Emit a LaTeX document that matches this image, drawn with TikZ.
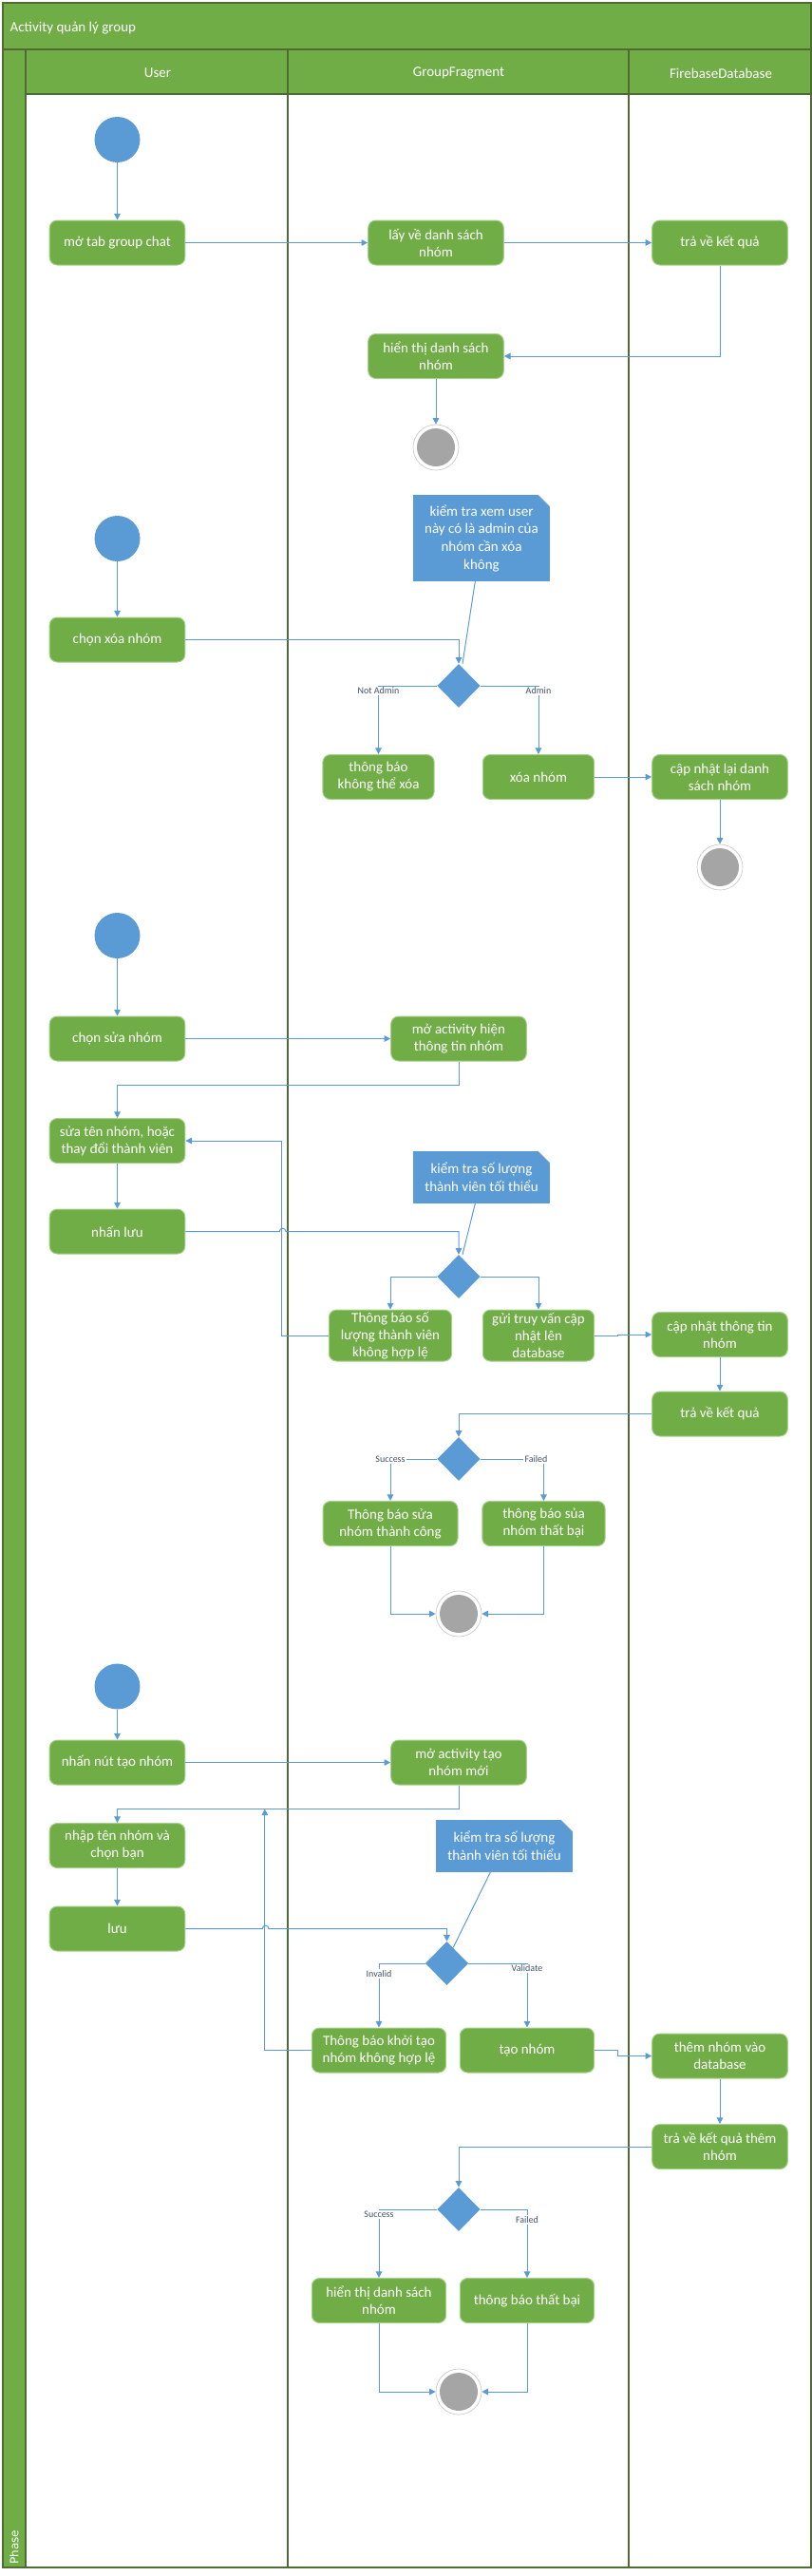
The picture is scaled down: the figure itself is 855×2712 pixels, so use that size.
\documentclass[tikz,border=0pt]{standalone}
\usepackage{fontspec}
\setmainfont{Carlito}
\newfontfamily\phasefont{DejaVu Sans}
\usepackage{xcolor}
\definecolor{lanegreen}{HTML}{70AD47}
\definecolor{laneline}{HTML}{4F6B33}
\definecolor{boxline}{HTML}{A9D18E}
\definecolor{umlblue}{HTML}{5B9BD5}
\definecolor{flowblue}{HTML}{5B9BD5}
\definecolor{endgray}{HTML}{A5A5A5}
\definecolor{guardtext}{HTML}{44546A}
\usepackage{tikz}
\usetikzlibrary{shapes.geometric}
\usetikzlibrary{arrows.meta}
\tikzset{>={Triangle[length=5pt,width=5pt]}}
\tikzset{
  action/.style   ={ font=\fontsize{11.25}{13.5}\selectfont, text=white, align=center, rectangle, rounded corners=6pt,
                     draw=boxline, fill=lanegreen, line width=0.75pt, inner xsep=2pt, inner ysep=1pt,
                     minimum width=107pt, minimum height=35.25pt },
  note/.style     ={ font=\fontsize{11.25}{14}\selectfont, text=white, align=center, rectangle, fill=umlblue,
                     inner sep=2pt, minimum width=108pt, minimum height=41pt,
                     path picture={\fill[white] (path picture bounding box.north east) -- ++(-9pt,0pt) -- ++(9pt,-9pt) -- cycle;
                                   \draw[black!20] (path picture bounding box.north east) ++(-9pt,0pt) -- ++(9pt,-9pt);} },
  decision/.style ={ diamond, aspect=1, fill=umlblue, inner sep=0pt, minimum width=34pt, minimum height=34.5pt },
  startnode/.style={ circle, fill=umlblue, inner sep=0pt, minimum size=36pt },
  endnode/.style  ={ circle, draw=endgray!60, fill=white, line width=0.5pt, inner sep=0pt, minimum size=36pt,
                     path picture={\fill[endgray] (path picture bounding box.center) circle (15pt);} },
  guard/.style    ={ font=\fontsize{7.5}{9}\selectfont, text=guardtext, fill=white, inner sep=1pt },
  header/.style   ={ font=\fontsize{11.25}{13.5}\selectfont, text=white },
%
  flow/.style     ={->, draw=flowblue, line width=0.75pt},
  noteline/.style ={draw=flowblue, line width=0.75pt},
  lane/.style     ={draw=laneline, line width=1pt}
}

\begin{document}
\begin{tikzpicture}[x=0.75pt,y=-0.75pt]
        \useasboundingbox (0,0) rectangle (855,2712);
        % swimlanes
        \fill[lanegreen] (3,3) rectangle (854,99);
        \fill[lanegreen] (3,99) rectangle (27,2703);
        \draw[lane] (3,3) rectangle (854,2703);
        \draw[lane] (3,52) -- (854,52);
        \draw[lane] (27,99) -- (854,99);
        \draw[lane] (27,52) -- (27,2703);
        \draw[lane] (303,52) -- (303,2703);
        \draw[lane] (662,52) -- (662,2703);
        \node[header,anchor=west] (title) at (6,30) {Activity quản lý group};
        \node[header] (user) at (166,77) {User};
        \node[header] (fragment) at (483,77) {GroupFragment};
        \node[header] (firebase) at (759,77) {FirebaseDatabase};
        \node[rotate=90,anchor=west,inner sep=0pt,text=white,font=\phasefont\fontsize{9}{11}\selectfont] (phase) at (15,2700) {Phase};
%
        % hien thi danh sach nhom
        \node[startnode] (start1) at (123.5,147) {};
        \node[action] (motab) at (123.5,255.5) {mở tab group chat};
        \node[action] (layve) at (459,255.5) {lấy về danh sách\\nhóm};
        \node[action] (traveA) at (758,255.5) {trả về kết quả};
        \node[action] (hienthiA) at (459,375) {hiển thị danh sách\\nhóm};
        \node[endnode] (endA) at (459,471) {};
        \draw[flow] (start1) -- (motab);
        \draw[flow] (motab) -- (layve);
        \draw[flow] (layve) -- (traveA);
        \draw[flow] (traveA.south) |- (hienthiA.east);
        \draw[flow] (hienthiA) -- (endA);
%
        % xoa nhom
        \node[note,minimum height=68pt] (note1) at (507,566.5) {kiểm tra xem user\\này có là admin của\\nhóm cần xóa\\không};
        \node[startnode] (start2) at (123.5,567) {};
        \node[action] (chonxoa) at (123.5,673.5) {chọn xóa nhóm};
        \node[decision] (dec1) at (483,722) {};
        \node[action,minimum width=88pt] (tbkx) at (398.5,818) {thông báo\\không thể xóa};
        \node[action,minimum width=88pt] (xoa) at (567,818) {xóa nhóm};
        \node[action] (capnhatlai) at (758,818) {cập nhật lại danh\\sách nhóm};
        \node[endnode] (endB) at (758,913) {};
        \draw[flow] (start2) -- (chonxoa);
        \draw[flow] (chonxoa.east) -| (dec1.north);
        \draw[noteline] ([xshift=-5pt]note1.south) -- ([xshift=3pt]dec1.north);
        \draw[flow] (dec1.west) -| node[guard,pos=0.5,anchor=north] {Not Admin} (tbkx.north);
        \draw[flow] (dec1.east) -| node[guard,pos=0.5,anchor=north] {Admin} (xoa.north);
        \draw[flow] (xoa) -- (capnhatlai);
        \draw[flow] (capnhatlai) -- (endB);
%
        % sua nhom
        \node[startnode] (start3) at (123.5,985) {};
        \node[action] (chonsua) at (123.5,1093.5) {chọn sửa nhóm};
        \node[action] (mohien) at (483,1093.5) {mở activity hiện\\thông tin nhóm};
        \node[action] (suaten) at (123.5,1201) {sửa tên nhóm, hoặc\\thay đổi thành viên};
        \node[action] (nhanluu) at (123.5,1296.5) {nhấn lưu};
        \node[note] (note2) at (507,1239.5) {kiểm tra số lượng\\thành viên tối thiểu};
        \node[decision] (dec2) at (483,1344) {};
        \node[action,minimum width=97pt,minimum height=40.5pt] (tbsl) at (411,1406) {Thông báo số\\lượng thành viên\\không hợp lệ};
        \node[action,minimum width=88pt,minimum height=40.5pt] (guidb) at (567,1406) {gửi truy vấn cập\\nhật lên\\database};
        \node[action] (capnhattt) at (758,1405) {cập nhật thông tin\\nhóm};
        \node[action] (traveB) at (758,1488.5) {trả về kết quả};
        \node[decision] (dec3) at (483,1536) {};
        \node[action,minimum width=106.5pt] (tbsua) at (411,1604) {Thông báo sửa\\nhóm thành công};
        \node[action,minimum width=97pt] (tbsuafail) at (572.5,1604) {thông báo sủa\\nhóm thất bại};
        \node[endnode] (endC) at (483,1699) {};
        \draw[flow] (start3) -- (chonsua);
        \draw[flow] (chonsua) -- (mohien);
        \draw[flow] (mohien.south) -- ++(0,25) -| (suaten.north);
        \draw[flow] (suaten) -- (nhanluu);
        \draw[flow] (nhanluu.east) -- ++(99,0) arc[start angle=180,end angle=0,radius=2.5pt] -| (dec2.north);
        \draw[noteline] ([xshift=-5pt]note2.south) -- ([xshift=3pt]dec2.north);
        \draw[flow] (dec2.west) -| (tbsl.north);
        \draw[flow] (dec2.east) -| (guidb.north);
        \draw[flow] (tbsl.west) -- ++(-49,0) |- (suaten.east);
        \draw[flow] (guidb.east) -- ++(24,0) |- (capnhattt.west);
        \draw[flow] (capnhattt) -- (traveB);
        \draw[flow] (traveB.west) -| (dec3.north);
        \draw[flow] (dec3.west) -| node[guard,pos=0.5] {Success} (tbsua.north);
        \draw[flow] (dec3.east) -| node[guard,pos=0.5,xshift=-6pt] {Failed} (tbsuafail.north);
        \draw[flow] (tbsua.south) |- (endC.west);
        \draw[flow] (tbsuafail.south) |- (endC.east);
%
        % tao nhom
        \node[startnode] (start4) at (123.5,1775.5) {};
        \node[action] (nhannut) at (123.5,1855.5) {nhấn nút tạo nhóm};
        \node[action] (motao) at (483,1855.5) {mở activity tạo\\nhóm mới};
        \node[action] (nhapten) at (123.5,1943) {nhập tên nhóm và\\chọn bạn};
        \node[note] (note3) at (531,1943.5) {kiểm tra số lượng\\thành viên tối thiểu};
        \node[action] (luu) at (123.5,2030.5) {lưu};
        \node[decision] (dec4) at (470.5,2067) {};
        \node[action,minimum width=106pt] (tbkt) at (399,2158.5) {Thông báo khởi tạo\\nhóm không hợp lệ};
        \node[action,minimum width=106pt] (taonhom) at (555,2158.5) {tạo nhóm};
        \node[action] (themnhom) at (758,2164.5) {thêm nhóm vào\\database};
        \node[action] (traveC) at (758,2260) {trả về kết quả thêm\\nhóm};
        \node[decision] (dec5) at (483,2326) {};
        \node[action,minimum width=106pt] (hienthiB) at (399,2422) {hiển thị danh sách\\nhóm};
        \node[action,minimum width=106pt] (tbthatbai) at (555,2422) {thông báo thất bại};
        \node[endnode] (endD) at (483,2518) {};
        \draw[flow] (start4) -- (nhannut);
        \draw[flow] (nhannut) -- (motao);
        \draw[flow] (motao.south) -- ++(0,25) coordinate (bend) -| (nhapten.north);
        \draw[flow] (nhapten) -- (luu);
        \draw[flow] (luu.east) -- ++(81,0) arc[start angle=180,end angle=0,radius=2.5pt] -| (dec4.north);
        \draw[noteline] ([xshift=-11pt]note3.south) -- ([xshift=5pt,yshift=-5pt]dec4.north);
        \draw[flow] (dec4.west) -| node[guard,pos=0.5,anchor=north,yshift=-4pt] {Invalid} (tbkt.north);
        \draw[flow] (dec4.east) -| node[guard,pos=0.5,anchor=north] {Validate} (taonhom.north);
        \draw[flow] (tbkt.west) -- ++(-49,0) coordinate (back) -- (back |- bend);
        \draw[flow] (taonhom.east) -- ++(24,0) |- (themnhom.west);
        \draw[flow] (themnhom) -- (traveC);
        \draw[flow] (traveC.west) -| (dec5.north);
        \draw[flow] (dec5.west) -| node[guard,pos=0.5,anchor=north] {Success} (hienthiB.north);
        \draw[flow] (dec5.east) -| node[guard,pos=0.5,anchor=north,yshift=-4pt] {Failed} (tbthatbai.north);
        \draw[flow] (hienthiB.south) |- (endD.west);
        \draw[flow] (tbthatbai.south) |- (endD.east);
      \end{tikzpicture}
\end{document}
